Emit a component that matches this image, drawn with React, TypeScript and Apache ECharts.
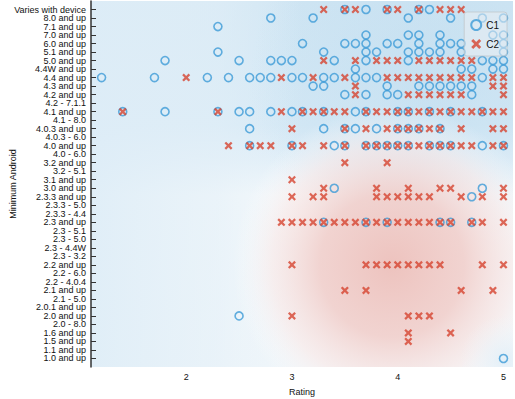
import React, { useEffect, useRef } from 'react';
import * as echarts from 'echarts';

const CATEGORIES = [
  'Varies with device', '8.0 and up', '7.1 and up', '7.0 and up', '6.0 and up', '5.1 and up',
  '5.0 and up', '4.4W and up', '4.4 and up', '4.3 and up', '4.2 and up', '4.2 - 7.1.1',
  '4.1 and up', '4.1 - 8.0', '4.0.3 and up', '4.0.3 - 6.0', '4.0 and up', '4.0 - 6.0',
  '3.2 and up', '3.2 - 5.1', '3.1 and up', '3.0 and up', '2.3.3 and up', '2.3.3 - 5.0',
  '2.3.3 - 4.4', '2.3 and up', '2.3 - 5.1', '2.3 - 5.0', '2.3 - 4.4W', '2.3 - 3.2',
  '2.2 and up', '2.2 - 6.0', '2.2 - 4.0.4', '2.1 and up', '2.1 - 5.0', '2.0.1 and up',
  '2.0 and up', '2.0 - 8.0', '1.6 and up', '1.5 and up', '1.1 and up', '1.0 and up',
];

const C1_ROWS: [string, number[]][] = [
  ['Varies with device', [3.5, 3.7, 3.9, 4.2, 4.3]],
  ['8.0 and up', [2.8, 3.2, 4.1, 4.5, 4.8, 5.0]],
  ['7.1 and up', [2.3]],
  ['7.0 and up', [3.7, 4.1, 4.2, 4.4, 4.9, 5.0]],
  ['6.0 and up', [3.1, 3.5, 3.6, 3.7, 3.9, 4.0, 4.2, 4.4, 4.5, 4.6, 5.0]],
  ['5.1 and up', [2.3, 3.3, 3.7, 3.8, 4.1, 4.2, 4.3, 4.4, 4.6, 5.0]],
  ['5.0 and up', [1.8, 2.5, 2.8, 2.9, 3.0, 3.4, 3.7, 4.1, 4.8, 4.9, 5.0]],
  ['4.4W and up', [3.6, 4.6, 4.7, 4.9, 5.0]],
  ['4.4 and up', [1.2, 1.7, 2.2, 2.4, 2.6, 2.7, 2.8, 3.0, 3.1, 3.3, 3.4, 3.6, 3.7, 3.8, 4.8]],
  ['4.3 and up', [3.2, 3.3, 3.9, 4.2, 4.3, 4.4, 4.5, 4.6, 4.7]],
  ['4.2 and up', [3.5, 3.7, 3.9, 4.0, 4.7]],
  ['4.1 and up', [1.4, 1.8, 2.3, 2.5, 2.6, 2.8, 3.0, 3.1, 3.3, 3.6, 3.7, 4.0, 4.1, 4.3, 4.5, 4.8]],
  ['4.0.3 and up', [2.6, 3.3, 3.5, 3.6, 3.8, 4.0, 4.1, 4.2, 4.4]],
  ['4.0 and up', [2.6, 3.0, 3.4, 3.5, 3.7, 3.8, 3.9, 4.0, 4.1, 4.3, 4.4, 4.5, 4.8, 5.0]],
  ['3.0 and up', [3.4, 4.8]],
  ['2.3.3 and up', [4.7]],
  ['2.3 and up', [3.3, 3.7, 3.9, 4.4, 4.5, 4.7]],
  ['2.0 and up', [2.5]],
  ['1.0 and up', [5.0]],
];

const C2_ROWS: [string, number[]][] = [
  ['Varies with device', [3.3, 3.5, 3.6, 3.9, 4.0, 4.2, 4.4, 4.5, 4.6]],
  ['5.0 and up', [3.3, 3.6, 3.8, 3.9, 4.0, 4.2, 4.3, 4.4, 4.5, 4.6, 4.7]],
  ['4.4 and up', [2.0, 2.9, 3.2, 3.5, 3.9, 4.0, 4.1, 4.2, 4.3, 4.4, 4.5, 4.6, 4.7, 4.9, 5.0]],
  ['4.3 and up', [3.6, 4.9, 5.0]],
  ['4.2 and up', [3.6, 4.1, 4.2, 4.3, 4.4, 4.5, 4.6, 5.0]],
  ['4.1 and up', [1.4, 2.3, 2.9, 3.1, 3.2, 3.3, 3.4, 3.5, 3.7, 3.8, 3.9, 4.0, 4.1, 4.2, 4.3, 4.4, 4.5, 4.6, 4.7, 4.8, 4.9, 5.0]],
  ['4.0.3 and up', [3.0, 3.5, 3.7, 3.9, 4.0, 4.1, 4.2, 4.3, 4.4, 4.6, 4.9, 5.0]],
  ['4.0 and up', [2.4, 2.6, 2.7, 2.8, 3.0, 3.1, 3.3, 3.5, 3.7, 3.8, 3.9, 4.0, 4.1, 4.2, 4.3, 4.4, 4.5, 4.6, 4.7, 4.9, 5.0]],
  ['3.2 and up', [3.5, 3.9]],
  ['3.1 and up', [3.0]],
  ['3.0 and up', [3.3, 3.8, 4.1, 4.4, 4.5, 5.0]],
  ['2.3.3 and up', [3.0, 3.2, 3.3, 3.8, 3.9, 4.0, 4.1, 4.2, 4.3, 4.6, 4.8, 5.0]],
  ['2.3 and up', [2.9, 3.0, 3.1, 3.2, 3.3, 3.4, 3.5, 3.6, 3.7, 3.8, 3.9, 4.0, 4.1, 4.2, 4.3, 4.4, 4.5, 4.7, 4.8, 5.0]],
  ['2.2 and up', [3.0, 3.7, 3.8, 3.9, 4.0, 4.1, 4.2, 4.3, 4.4, 4.8, 5.0]],
  ['2.1 and up', [3.5, 3.7, 4.6, 4.9]],
  ['2.0 and up', [3.0, 4.1, 4.2, 4.3]],
  ['1.6 and up', [4.1, 4.5]],
  ['1.5 and up', [4.1]],
];

const X_MAJOR_TICKS = [2, 3, 4, 5];
const X_MINOR_TICKS = [1.2, 1.4, 1.6, 1.8, 2.2, 2.4, 2.6, 2.8, 3.2, 3.4, 3.6, 3.8, 4.2, 4.4, 4.6, 4.8];

const X_MIN = 1.1;
const X_MAX = 5.09;

// y axis: padded category list so the first/last categories sit one step inside the plot
const Y_AXIS_DATA = ['', ...CATEGORIES, ''];

function toPoints(rows: [string, number[]][]) {
  const out: (number | string)[][] = [];
  rows.forEach(([cat, ratings]) => {
    ratings.forEach((r) => out.push([r, cat]));
  });
  return out;
}

const X_SYMBOL = 'path://M0,2 L2,0 L5,3 L8,0 L10,2 L7,5 L10,8 L8,10 L5,7 L2,10 L0,8 L3,5 Z';
const FONT = 'Liberation Sans, Arial, sans-serif';

export default function App() {
  const ref = useRef<HTMLDivElement>(null);
  useEffect(() => {
    const chart = echarts.init(ref.current!, null, { renderer: 'svg' });
    const gl = 91, gt = 1, gw = 422, gh = 366;
    const rect = { x: gl, y: gt, width: gw, height: gh };
    chart.setOption({
      animation: false,
      textStyle: { fontFamily: FONT },
      grid: { left: gl, top: gt, width: gw, height: gh, containLabel: false, outerBoundsMode: 'none' },
      graphic: [
        {
          type: 'rect', shape: rect, z: -10, silent: true,
          style: {
            fill: new echarts.graphic.LinearGradient(0, 0, 0, 1, [
              { offset: 0, color: '#cfe5f3' },
              { offset: 0.34, color: '#d4e8f5' },
              { offset: 0.44, color: '#e2eff8' },
              { offset: 0.53, color: '#f3f8fb' },
              { offset: 1, color: '#f0f6fa' },
            ]),
          },
        },
        {
          type: 'rect', shape: rect, z: -9, silent: true,
          style: {
            fill: new echarts.graphic.LinearGradient(0, 0, 1, 0, [
              { offset: 0, color: 'rgba(222,237,247,0.9)' },
              { offset: 0.3, color: 'rgba(228,240,248,0.6)' },
              { offset: 0.5, color: 'rgba(235,244,250,0)' },
              { offset: 1, color: 'rgba(235,244,250,0)' },
            ]),
          },
        },
        {
          type: 'rect', shape: rect, z: -8, silent: true,
          style: {
            fill: new echarts.graphic.RadialGradient(430, 80, 180, [
              { offset: 0, color: 'rgba(190,220,239,0.55)' },
              { offset: 1, color: 'rgba(190,220,239,0)' },
            ], true),
          },
        },
        {
          type: 'rect', shape: rect, z: -7, silent: true,
          style: {
            fill: new echarts.graphic.RadialGradient(392, 265, 160, [
              { offset: 0, color: 'rgba(237,192,187,0.95)' },
              { offset: 0.45, color: 'rgba(241,205,201,0.85)' },
              { offset: 0.75, color: 'rgba(250,232,230,0.6)' },
              { offset: 1, color: 'rgba(255,255,255,0)' },
            ], true),
          },
        },
        {
          type: 'rect', shape: rect, z: -6, silent: true,
          style: {
            fill: new echarts.graphic.RadialGradient(505, 360, 45, [
              { offset: 0, color: 'rgba(225,238,247,0.9)' },
              { offset: 1, color: 'rgba(240,246,250,0)' },
            ], true),
          },
        },
      ],
      legend: {
        orient: 'vertical',
        right: 8,
        top: 12,
        padding: [7, 8, 7, 6],
        itemWidth: 10,
        itemHeight: 10,
        itemGap: 8,
        backgroundColor: 'rgba(235,238,242,0.55)',
        borderColor: 'rgba(190,195,200,0.7)',
        borderWidth: 1,
        borderRadius: 3,
        textStyle: { fontSize: 10, color: '#111', fontFamily: FONT },
        data: ['C1', 'C2'],
      },
      xAxis: [
        {
          type: 'value',
          min: X_MIN,
          max: X_MAX,
          name: 'Rating',
          nameLocation: 'middle',
          nameGap: 20,
          nameTextStyle: { fontSize: 9, color: '#111', fontFamily: FONT },
          axisLine: { onZero: false, lineStyle: { color: '#333', width: 1.5 } },
          axisTick: { inside: true, length: 5, customValues: X_MAJOR_TICKS, lineStyle: { color: '#333' } },
          axisLabel: { customValues: X_MAJOR_TICKS, fontSize: 9, color: '#111', margin: 5, fontFamily: FONT },
          splitLine: { show: false },
        },
        {
          type: 'value',
          min: X_MIN,
          max: X_MAX,
          position: 'bottom',
          offset: 0,
          axisLine: { show: false, onZero: false },
          axisTick: { inside: true, length: 3, customValues: X_MINOR_TICKS, lineStyle: { color: '#555' } },
          axisLabel: { show: false },
          splitLine: { show: false },
        },
      ],
      yAxis: {
        type: 'category',
        inverse: true,
        boundaryGap: false,
        data: Y_AXIS_DATA,
        name: 'Minimum Android',
        nameLocation: 'middle',
        nameGap: 74,
        nameMoveOverlap: false,
        nameTextStyle: { fontSize: 9, color: '#111', fontFamily: FONT },
        axisLine: { show: true, onZero: false, lineStyle: { color: '#333', width: 1.5 } },
        axisTick: {
          show: true, inside: true, length: 5,
          interval: (_i: number, v: string) => v !== '',
          lineStyle: { color: '#333' },
        },
        axisLabel: {
          interval: 0,
          fontSize: 9,
          lineHeight: 8,
          color: '#111',
          margin: 5,
          fontFamily: FONT,
        },
        splitLine: { show: false },
      },
      series: [
        {
          name: 'C1',
          type: 'scatter',
          xAxisIndex: 0,
          symbol: 'circle',
          symbolSize: 8,
          silent: true,
          itemStyle: { color: 'rgba(255,255,255,0)', borderColor: '#3d9bd7', borderWidth: 1.6 },
          data: toPoints(C1_ROWS),
        },
        {
          name: 'C2',
          type: 'scatter',
          xAxisIndex: 0,
          symbol: X_SYMBOL,
          symbolSize: 8,
          silent: true,
          itemStyle: { color: '#d6432f' },
          data: toPoints(C2_ROWS),
        },
      ],
    });
    return () => chart.dispose();
  }, []);
  return <div ref={ref} style={{ position: 'absolute', left: 0, top: 0, width: 515, height: 399 }} />;
}
